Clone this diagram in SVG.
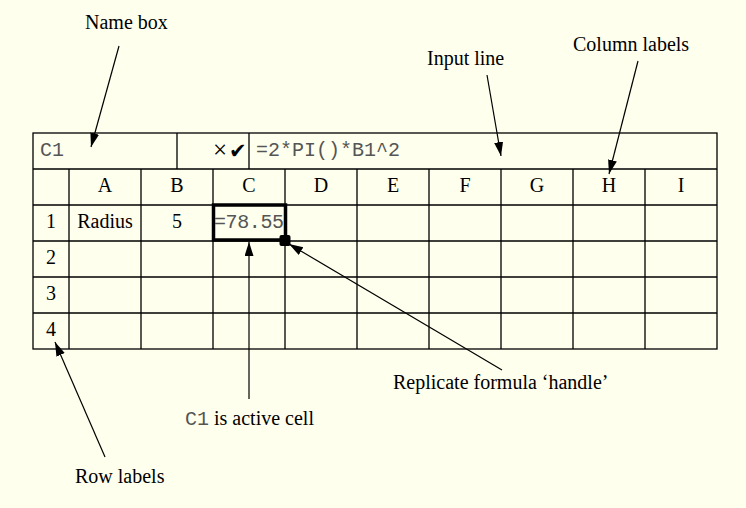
<svg xmlns="http://www.w3.org/2000/svg" width="746" height="508" viewBox="0 0 746 508">
<style>
.serif{font-family:"Liberation Serif","Times New Roman",serif;font-size:20px;fill:#000}
.hdr{text-anchor:middle}
.mono{font-family:"Liberation Mono","Courier New",monospace;font-size:20px;fill:#555}
.grid{stroke:#000;stroke-width:1.3;fill:none}
.conn{stroke:#000;stroke-width:1.2;fill:none;marker-end:url(#ah)}
</style>
<defs>
<marker id="ah" markerUnits="userSpaceOnUse" markerWidth="16" markerHeight="10" refX="14" refY="4.5" orient="auto">
<path d="M0,0 L14,4.5 L0,9 z" fill="#000"/>
</marker>
</defs>
<rect width="746" height="508" fill="#ffffee"/>
<g id="spreadsheet">
<rect class="grid" x="33" y="133" width="684" height="216"/>
<path class="grid" d="M33,169H717 M33,205H717 M33,241H717 M33,277H717 M33,313H717 M177,133V169 M249,133V169 M69,169V349 M141,169V349 M213,169V349 M285,169V349 M357,169V349 M429,169V349 M501,169V349 M573,169V349 M645,169V349"/>
<text class="mono" x="40" y="156">C1</text>
<text x="213" y="158" font-family="Liberation Serif,serif" font-size="25">×</text>
<text x="229" y="158" font-family="DejaVu Sans,sans-serif" font-size="21">✔</text>
<text class="mono" x="256" y="156">=2*PI()*B1^2</text>
<g class="serif hdr">
<text x="105" y="192">A</text><text x="177" y="192">B</text><text x="249" y="192">C</text><text x="321" y="192">D</text><text x="393" y="192">E</text><text x="465" y="192">F</text><text x="537" y="192">G</text><text x="609" y="192">H</text><text x="681" y="192">I</text>
<text x="51" y="228">1</text><text x="51" y="264">2</text><text x="51" y="300">3</text><text x="51" y="336">4</text>
<text x="105" y="228">Radius</text><text x="177" y="228">5</text>
</g>
<text class="mono" x="214" y="228" textLength="70">=78.55</text>
</g>
<g id="active-cell">
<rect x="213.5" y="205" width="72" height="35" fill="none" stroke="#000" stroke-width="3.5"/>
<rect x="279.5" y="235" width="11" height="11" rx="2" fill="#000"/>
</g>
<g id="label-name-box"><text class="serif" x="85" y="29">Name box</text></g>
<g id="label-input-line"><text class="serif" x="427" y="65">Input line</text></g>
<g id="label-column-labels"><text class="serif" x="573" y="51">Column labels</text></g>
<g id="label-handle"><text class="serif" x="393" y="389">Replicate formula ‘handle’</text></g>
<g id="label-active-cell"><text class="serif" x="185" y="425"><tspan class="mono" font-size="18">C1</tspan> is active cell</text></g>
<g id="label-row-labels"><text class="serif" x="75" y="483">Row labels</text></g>
<g id="connectors">
<path class="conn" d="M119,46 L91,147"/>
<path class="conn" d="M487,75 L501,156"/>
<path class="conn" d="M638,61 L609,174"/>
<path class="conn" d="M105,457 L55,342"/>
<path class="conn" d="M249,399 L249,242"/>
<path class="conn" d="M502,370 L289,244"/>
</g>
</svg>
